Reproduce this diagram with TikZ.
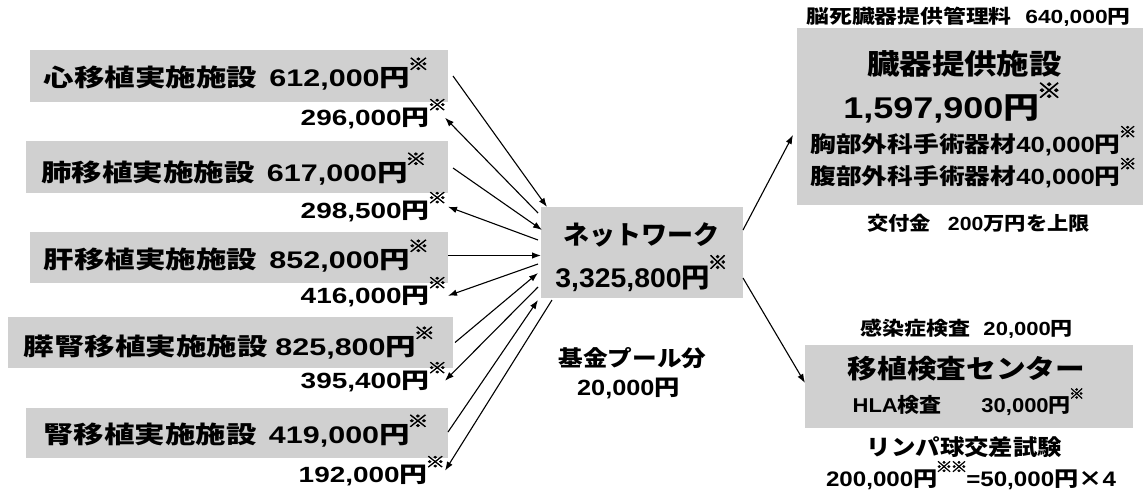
\documentclass[tikz,border=0pt]{standalone}
\usepackage{fontspec}
\setmainfont{Liberation Sans}
\newfontfamily\jp{Noto Sans CJK JP}
\newfontfamily\kmf{Noto Sans CJK JP}[FakeBold=3]
\usetikzlibrary{arrows.meta,calc}
\definecolor{boxgray}{RGB}{208,208,208}
\newcommand\km{\kern-0.08em\raisebox{0.66em}{\scalebox{0.7}{\kmf ※}}}
\newcommand\J[1]{{\jp #1}}
\newcommand\fs[1]{\fontsize{#1}{#1}\bfseries}
\newcommand\sx[2]{\scalebox{#1}[1]{#2}}
\begin{document}
\begin{tikzpicture}[x=1pt,y=-1pt, line width=1.1pt,
  >={Latex[length=9pt,width=6.5pt]},
  box/.style={fill=boxgray, inner sep=0pt, outer sep=0pt},
  txt/.style={inner sep=0pt, outer sep=0pt, anchor=base}]
\useasboundingbox (0,0) rectangle (1146,490);

% gray boxes
\node[box, minimum width=418pt, minimum height=52pt] (heart) at (239,76) {};
\node[box, minimum width=422pt, minimum height=52pt] (lung) at (237,167) {};
\node[box, minimum width=418pt, minimum height=51pt] (liver) at (239,257.5) {};
\node[box, minimum width=445pt, minimum height=51pt] (panc) at (230.5,342.5) {};
\node[box, minimum width=422pt, minimum height=50pt] (kidney) at (237,433) {};
\node[box, minimum width=202pt, minimum height=91pt] (net) at (642,252.5) {};
\node[box, minimum width=346pt, minimum height=177pt] (donor) at (970,116.5) {};
\node[box, minimum width=328pt, minimum height=83pt] (test) at (969,386.5) {};

% left box texts
\node[txt] (heartT) at (236.5,86) {\sx{1.27}{\fs{24}\J{心移植実施施設}\hspace{0.4em}612,000\J{円}\km}};
\node[txt] (lungT) at (234,181) {\sx{1.27}{\fs{24}\J{肺移植実施施設}\hspace{0.4em}617,000\J{円}\km}};
\node[txt] (liverT) at (236.5,268) {\sx{1.27}{\fs{24}\J{肝移植実施施設}\hspace{0.4em}852,000\J{円}\km}};
\node[txt] (pancT) at (229.5,355) {\sx{1.27}{\fs{24}\J{膵腎移植実施施設}\hspace{0.25em}825,800\J{円}\km}};
\node[txt] (kidneyT) at (236,443) {\sx{1.27}{\fs{24}\J{腎移植実施施設}\hspace{0.4em}419,000\J{円}\km}};

% left return labels
\node[txt, anchor=base east] (l1) at (447,125) {\sx{1.27}{\fs{22}296,000\J{円}\km}};
\node[txt, anchor=base east] (l2) at (447,218) {\sx{1.27}{\fs{22}298,500\J{円}\km}};
\node[txt, anchor=base east] (l3) at (447,303) {\sx{1.27}{\fs{22}416,000\J{円}\km}};
\node[txt, anchor=base east] (l4) at (447,388) {\sx{1.27}{\fs{22}395,400\J{円}\km}};
\node[txt, anchor=base east] (l5) at (445,482) {\sx{1.27}{\fs{22}192,000\J{円}\km}};

% network
\node[txt] (netA) at (641.5,244) {\fs{26}\J{ネットワーク}};
\node[txt] (netB) at (641.5,287) {\sx{1.05}{\fs{27}3,325,800\J{円}\km}};
\node[txt] (poolA) at (632.5,366) {\sx{1.12}{\fs{22}\J{基金プール分}}};
\node[txt] (poolB) at (628.5,395) {\sx{1.15}{\fs{22}20,000\J{円}}};

% donor facility
\node[txt] (dTop) at (968.5,23) {\sx{1.2}{\fs{19}\J{脳死臓器提供管理料}\hspace{0.6em}640,000\J{円}}};
\node[txt] (dA) at (964.5,74) {\sx{1.16}{\fs{28}\J{臓器提供施設}}};
\node[txt] (dB) at (952.5,118) {\sx{1.2}{\fs{30}1,597,900\J{円}\km}};
\node[txt] (dC) at (973.5,152) {\sx{1.17}{\fs{22}\J{胸部外科手術器材}40,000\J{円}\km}};
\node[txt] (dD) at (973.5,184) {\sx{1.17}{\fs{22}\J{腹部外科手術器材}40,000\J{円}\km}};
\node[txt] (dE) at (978.5,230) {\sx{1.12}{\fs{19}\J{交付金}\hspace{0.8em}200\J{万円を上限}}};

% test center
\node[txt] (tTop) at (966.5,335) {\sx{1.16}{\fs{19}\J{感染症検査}\hspace{0.6em}20,000\J{円}}};
\node[txt] (tA) at (966.5,378) {\sx{1.14}{\fs{26}\J{移植検査センター}}};
\node[txt] (tB) at (968.5,412) {\sx{1.1}{\fs{20}HLA\J{検査}\hspace{36pt}30,000\J{円}\km}};
\node[txt] (tC) at (964.5,455) {\sx{1.11}{\fs{22}\J{リンパ球交差試験}}};
\node[txt] (tD) at (971,486) {\sx{1.15}{\fs{21}200,000\J{円}\km\km\kern-0.05em=50,000\J{円×}4}};

% arrows: facilities -> network and network -> labels
\draw[->] ([xshift=5pt]heart.east) -- ($(net.north west)+(6,0)$);
\draw[->] ($(net.north west)+(-3,6)$) -- ($(l1.east)+(-2,4)$);
\draw[->] ($(lung.east)+(5,1)$) -- ($(net.north west)+(1,23)$);
\draw[->] ($(net.north west)+(-3,33)$) -- ($(l2.east)+(1,0)$);
\draw[->] ($(liver.east)+(0,-2)$) -- ($(liver.east -| net.west)+(0,-2)$);
\draw[->] ($(net.north west)+(-3,57)$) -- ($(l3.east)+(1,4)$);
\draw[->] ($(panc.east)+(2,0)$) -- ($(net.north west)+(-3,66)$);
\draw[->] ($(net.north west)+(-3,80)$) -- ($(l4.east)+(-2,4)$);
\draw[->] ($(kidney.east)+(0,-1)$) -- ($(net.south west)+(-3,2)$);
\draw[->] ($(net.south west)+(11,2)$) -- ($(l5.east)+(0,0)$);
% network -> right
\draw[->] ($(net.east)+(0,-22.5)$) -- ($(donor.west)+(-4,18.5)$);
\draw[->] ($(net.east)+(0,25.5)$) -- ($(test.west)+(0,-3.5)$);
\end{tikzpicture}
\end{document}
